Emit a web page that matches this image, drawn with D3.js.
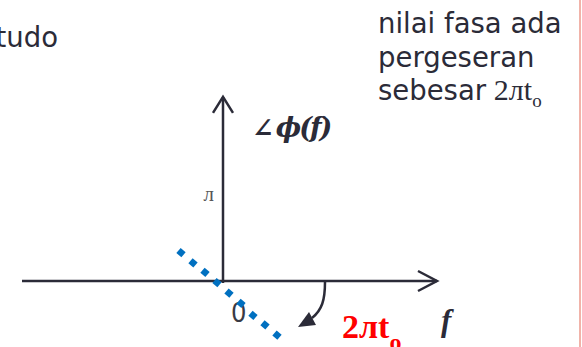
<!DOCTYPE html>
<html lang="id">
<head>
<meta charset="UTF-8">
<title>Spektrum fasa</title>
<style>
  body { margin: 0; background: #fff; }
  svg { display: block; }
  .body-text { font-family: "DejaVu Sans", sans-serif; font-size: 27.5px; fill: #2b2b38; }
  .axis-line { stroke: #2b2b38; stroke-width: 2.5; fill: none; }
</style>
</head>
<body>
<svg></svg>
<script src="https://cdn.jsdelivr.net/npm/d3@7"></script>
<script>
  // data: titik-titik garis fasa (f, fasa dalam satuan л)
  var dotF = [-0.21, -0.15, -0.09, -0.03, 0.03, 0.09, 0.15, 0.21, 0.27];
  var dotPhase = [0.33, 0.21, 0.10, -0.02, -0.14, -0.26, -0.40, -0.51, -0.63];
  // batas sumbu dan label
  var fExtent = [-1.005, 1.07];
  var phaseTop = 2.14;
  var yTickValues = [1];
  var yTickLabels = ["л"];
  var rightLines = ["nilai fasa ada", "pergeseran", "sebesar "];

  var w = 582, h = 347;
  var svg = d3.select("svg").attr("width", w).attr("height", h);

  var xScale = d3.scaleLinear().domain([-1, 1]).range([23, 423]);
  var yScale = d3.scaleLinear().domain([0, 1]).range([281, 195]);

  // garis merah muda di kanan
  svg.append("line")
    .attr("x1", 580).attr("x2", 580).attr("y1", 0).attr("y2", h)
    .attr("stroke", "#ec9a8c").attr("stroke-width", 1.5);

  // teks kiri atas (terpotong)
  svg.append("text").attr("class", "body-text")
    .attr("x", 58).attr("y", 47).attr("text-anchor", "end")
    .text("tudo");

  // teks kanan atas
  var rt = svg.append("text").attr("class", "body-text");
  rightLines.forEach(function(s, i) {
    rt.append("tspan").attr("x", 378).attr("y", 33 + i * 33.5).text(s);
  });
  rt.append("tspan")
    .attr("dx", -1)
    .style("font-family", "'Liberation Serif', serif")
    .style("font-size", "30px")
    .text("2лt");
  rt.append("tspan")
    .style("font-family", "'Liberation Serif', serif")
    .style("font-size", "19px")
    .attr("dy", 7)
    .text("o");

  // sumbu horizontal
  var x0 = xScale(fExtent[0]), x1 = xScale(fExtent[1]), y0 = yScale(0);
  svg.append("line").attr("class", "axis-line")
    .attr("x1", x0).attr("x2", x1).attr("y1", y0).attr("y2", y0);
  svg.append("path").attr("class", "axis-line")
    .attr("d", "M" + (x1 - 19) + "," + (y0 - 10) + "L" + x1 + "," + y0 + "L" + (x1 - 19) + "," + (y0 + 10));

  // sumbu vertikal
  var xc = xScale(0), yt = yScale(phaseTop);
  svg.append("line").attr("class", "axis-line")
    .attr("x1", xc).attr("x2", xc).attr("y1", yt).attr("y2", y0 + 2);
  svg.append("path").attr("class", "axis-line")
    .attr("d", "M" + (xc - 10) + "," + (yt + 16) + "L" + xc + "," + yt + "L" + (xc + 10) + "," + (yt + 16));

  // label л
  svg.selectAll(".ytick").data(yTickValues).enter().append("text")
    .attr("class", "ytick")
    .attr("x", xc - 9).attr("y", function(d) { return yScale(d) + 6; })
    .attr("text-anchor", "end")
    .style("font-family", "'Liberation Serif', serif")
    .style("font-size", "21px")
    .style("fill", "#555")
    .text(function(d, i) { return yTickLabels[i]; });

  // label 0
  svg.append("text")
    .attr("x", 231).attr("y", 322)
    .style("font-family", "'Liberation Sans Narrow', 'DejaVu Sans Condensed', sans-serif")
    .style("font-size", "27px")
    .style("fill", "#3a3a44")
    .text("0");

  // garis fasa titik-titik biru
  var pts = dotF.map(function(f, i) { return [xScale(f), yScale(dotPhase[i])]; });
  var ang = Math.atan2(pts[pts.length - 1][1] - pts[0][1], pts[pts.length - 1][0] - pts[0][0]) * 180 / Math.PI;
  svg.selectAll(".dot").data(pts).enter().append("rect")
    .attr("class", "dot")
    .attr("x", -3.3).attr("y", -3.3).attr("width", 6.6).attr("height", 6.6)
    .attr("fill", "#0070c0")
    .attr("transform", function(d) { return "translate(" + d[0] + "," + d[1] + ") rotate(" + ang + ")"; });

  // label sudut fasa
  var lab = svg.append("text").attr("x", 252).attr("y", 137).style("fill", "#2b2b38");
  lab.append("tspan")
    .style("font-family", "'DejaVu Serif', serif")
    .style("font-weight", "bold").style("font-style", "italic")
    .style("font-size", "26px")
    .text("∠");
  lab.append("tspan")
    .attr("dx", 2)
    .style("font-family", "'DejaVu Serif', serif")
    .style("font-weight", "bold").style("font-style", "italic")
    .style("font-size", "27px")
    .style("letter-spacing", "-2px")
    .text("ϕ(f)");

  // panah lengkung
  var ax = xScale(0.51);
  svg.append("path").attr("class", "axis-line")
    .attr("d", "M" + ax + "," + (y0 + 1) + " C" + ax + ",300 " + (ax - 3) + ",310 " + (ax - 13) + ",318");
  svg.append("path")
    .attr("d", "M298,327 L309,312 L316,325 Z")
    .attr("fill", "#2b2b38");

  // 2лto merah
  var red = svg.append("text").attr("x", 342).attr("y", 338)
    .style("fill", "#ff0000")
    .style("font-family", "'Liberation Serif', serif")
    .style("font-weight", "bold");
  red.append("tspan").style("font-size", "34px").text("2лt");
  red.append("tspan").style("font-size", "24px").attr("dy", 12).text("o");

  // label f
  svg.append("text").attr("x", 441).attr("y", 331)
    .style("fill", "#2b2b38")
    .style("font-family", "'Liberation Serif', serif")
    .style("font-weight", "bold").style("font-style", "italic")
    .style("font-size", "31px")
    .text("f");
</script>
</body>
</html>
